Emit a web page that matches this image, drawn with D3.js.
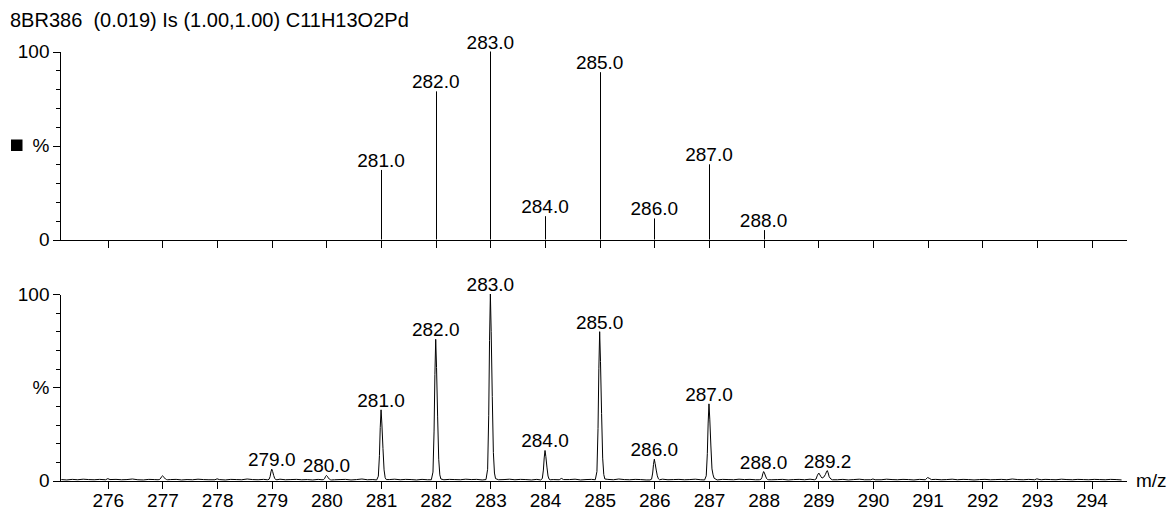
<!DOCTYPE html>
<html>
<head>
<meta charset="utf-8">
<script src="https://cdn.jsdelivr.net/npm/d3@7"></script>
<style>
  html, body { margin: 0; padding: 0; background: #fff; }
  svg { display: block; }
  text { font-family: "Liberation Sans", Arial, Helvetica, sans-serif; fill: #000; }
  .axis path, .axis line { stroke: #000; stroke-width: 1; shape-rendering: crispEdges; }
  .axis text { font-family: "Liberation Sans", Arial, Helvetica, sans-serif; }
</style>
</head>
<body>
<script>
// ---------- DATA ----------
const titleText = "8BR386  (0.019) Is (1.00,1.00) C11H13O2Pd";
const xTicks = [276,277,278,279,280,281,282,283,284,285,286,287,288,289,290,291,292,293,294];
const yMajorTicks = [0, 50, 100];
const yMajorLabels = ["0", "%", "100"];
const yMinorTicks = [10,20,30,40,60,70,80,90];

// Top panel: theoretical isotope pattern (centroid sticks)
const topMz     = [281, 282, 283, 284, 285, 286, 287, 288];
const topInt    = [37.0, 78.8, 100, 12.4, 89.0, 11.2, 40.0, 5.0];
const topLabels = ["281.0","282.0","283.0","284.0","285.0","286.0","287.0","288.0"];

// Bottom panel: labelled peaks of the measured profile
const botLabelMz   = [279, 280, 281, 282, 283, 284, 285, 286, 287, 288, 289.17];
const botLabelInt  = [6.1, 2.7, 37.9, 75.7, 100, 16.1, 79.8, 11.4, 41.1, 4.8, 5.3];
const botLabels    = ["279.0","280.0","281.0","282.0","283.0","284.0","285.0","286.0","287.0","288.0","289.2"];

// Measured profile: baseline noise (step 0.1 from 275.15) and peak points [m/z, %]
const noiseStart = 275.15, noiseStep = 0.1;
const noise = [
 0.5,0.3,0.6,0.4,0.7,0.5,0.4,0.6,0.3,0.5,
 0.6,0.4,0.5,0.8,0.4,0.3,0.6,0.5,0.7,0.4,
 0.5,0.6,0.3,0.5,0.4,0.7,0.5,0.4,0.6,0.5,
 0.3,0.6,0.5,0.4,0.8,0.5,0.4,0.6,0.3,0.5,
 0.7,0.4,0.5,0.6,0.4,0.5,0.3,0.6,0.5,0.7,
 0.4,0.5,0.6,0.3,0.5,0.8,0.4,0.5,0.6,0.4,
 0.5,0.7,0.4,0.6,0.5,0.3,0.6,0.4,0.5,0.9,
 0.4,0.6,0.5,0.4,0.7,0.5,0.6,0.3,0.5,0.6,
 0.4,0.5,0.7,0.4,0.6,0.5,0.3,0.6,0.8,0.4,
 0.5,0.6,0.4,0.5,0.7,0.3,0.5,0.6,0.4,0.5,
 0.6,0.4,0.8,0.5,0.4,0.6,0.5,0.3,0.6,0.5,
 0.7,0.4,0.5,0.6,0.4,0.5,0.7,0.4,0.6,0.5,
 0.3,0.6,0.5,0.4,0.7,0.5,0.6,0.4,0.5,0.8,
 0.4,0.5,0.6,0.3,0.5,0.6,0.4,0.7,0.5,0.4,
 0.6,0.5,0.4,0.6,0.3,0.5,0.7,0.4,0.5,0.6,
 0.4,0.7,0.5,0.4,0.6,0.5,0.3,0.6,0.4,0.5,
 0.6,0.4,0.5,0.7,0.4,0.6,0.5,0.3,0.5,0.6,
 0.4,0.5,0.6,0.4,0.8,0.5,0.4,0.6,0.5,0.3,
 0.6,0.5,0.4,0.7,0.5,0.4,0.6,0.5,0.4,0.6,
 0.5,0.4,0.6,0.5,0.3,0.5
];
const peakPoints = [
 [275.96,0.4],[276.0,1.0],[276.04,0.5],
 [276.92,0.4],[276.95,0.6],[276.97,1.3],[276.985,2.1],[277.0,2.5],[277.015,2.2],[277.035,1.4],[277.055,0.8],[277.075,0.5],[277.095,0.4],
 [277.96,0.4],[278.0,0.9],[278.04,0.5],
 [278.92,0.4],[278.95,0.6],[278.97,2.1],[278.985,4.6],[279.0,6.1],[279.015,4.9],[279.035,2.7],[279.055,1.0],[279.075,0.5],[279.095,0.4],
 [279.92,0.4],[279.95,0.5],[279.97,1.2],[279.985,2.2],[280.0,2.7],[280.015,2.3],[280.035,1.4],[280.055,0.7],[280.075,0.4],[280.095,0.3],
 [280.92,0.3],[280.95,2.3],[280.97,13.3],[280.985,28.4],[281.0,37.9],[281.015,30.3],[281.035,17.1],[281.055,5.7],[281.075,1.5],[281.095,0.5],
 [281.92,0.4],[281.95,4.5],[281.97,26.5],[281.985,56.8],[282.0,75.7],[282.015,60.6],[282.035,34.1],[282.055,11.4],[282.075,3.0],[282.095,0.8],
 [282.92,0.5],[282.95,6],[282.97,35],[282.985,75],[283.0,100],[283.015,80],[283.035,45],[283.055,15],[283.075,4],[283.095,1],
 [283.92,0.3],[283.95,1.0],[283.97,5.6],[283.985,12.1],[284.0,16.1],[284.015,12.9],[284.035,7.2],[284.055,2.4],[284.075,0.7],[284.095,0.4],
 [284.26,0.4],[284.3,1.1],[284.34,0.5],
 [284.92,0.4],[284.95,4.8],[284.97,27.9],[284.985,59.9],[285.0,79.8],[285.015,63.8],[285.035,35.9],[285.055,12.0],[285.075,3.2],[285.095,0.8],
 [285.92,0.3],[285.95,0.7],[285.97,4.0],[285.985,8.6],[286.0,11.4],[286.015,9.1],[286.035,5.6],[286.055,2.5],[286.075,0.9],[286.095,0.4],
 [286.92,0.3],[286.95,2.5],[286.97,14.4],[286.985,30.8],[287.0,41.1],[287.015,32.9],[287.035,18.5],[287.055,6.2],[287.075,3.0],[287.095,1.2],
 [287.92,0.4],[287.95,0.6],[287.97,1.7],[287.985,3.6],[288.0,4.8],[288.015,4.0],[288.035,2.4],[288.055,1.0],[288.075,0.5],[288.095,0.4],
 [288.93,0.4],[288.96,0.8],[288.98,2.5],[289.0,3.6],[289.01,4.0],[289.03,3.0],[289.05,2.0],[289.07,1.3],[289.1,1.8],[289.13,3.2],[289.155,5.0],[289.165,5.3],[289.18,4.2],[289.2,2.0],[289.23,0.8],[289.26,0.4],
 [289.96,0.4],[290.0,0.8],[290.04,0.4],
 [290.96,0.4],[291.0,1.6],[291.03,1.2],[291.07,0.5],
 [292.96,0.4],[293.0,0.9],[293.04,0.6],[293.08,0.4]
];

// ---------- LAYOUT ----------
const W = 1171, H = 513;
const FS = 19;
const svg = d3.select("body").append("svg").attr("width", W).attr("height", H);

const x = d3.scaleLinear().domain([275.116, 294.64]).range([59.5, 1126.5]);
const yTop = d3.scaleLinear().domain([0, 100]).range([239.5, 51.5]);
const yBot = d3.scaleLinear().domain([0, 100]).range([480.5, 294]);

// Title
svg.append("text").attr("x", 10).attr("y", 26.5)
  .attr("font-size", 20).style("white-space", "pre").attr("xml:space", "preserve")
  .text(titleText);

function drawYAxis(y, withSquare) {
  const g = svg.append("g").attr("class", "axis");
  g.append("g").attr("transform", "translate(59.5,0)")
    .call(d3.axisLeft(y).tickValues(yMinorTicks).tickSize(4).tickSizeOuter(0).tickFormat(""))
    .call(s => s.select(".domain").remove());
  g.append("g").attr("transform", "translate(59.5,0)")
    .call(d3.axisLeft(y).tickValues(yMajorTicks).tickSize(7).tickSizeOuter(0).tickPadding(3)
      .tickFormat(d => yMajorLabels[yMajorTicks.indexOf(d)]))
    .call(s => s.selectAll("text").attr("font-size", FS));
  if (withSquare) {
    svg.append("rect").attr("x", 11).attr("y", y(50) - 6).attr("width", 11.5).attr("height", 11.5).attr("fill", "#000");
  }
}
function drawXAxis(y, withLabels) {
  const g = svg.append("g").attr("class", "axis").attr("transform", `translate(0,${y(0)})`)
    .call(d3.axisBottom(x).tickValues(xTicks).tickSize(8).tickSizeOuter(0).tickPadding(5)
      .tickFormat(withLabels ? d3.format("d") : ""));
  g.selectAll("text").attr("font-size", FS);
}

// ---------- TOP PANEL ----------
drawYAxis(yTop, true);
drawXAxis(yTop, false);
const topG = svg.append("g");
topG.selectAll("line.stick").data(topMz).enter().append("line")
  .attr("x1", d => Math.round(x(d)) + 0.5).attr("x2", d => Math.round(x(d)) + 0.5)
  .attr("y1", yTop(0)).attr("y2", (d, i) => yTop(topInt[i]))
  .attr("stroke", "#000").attr("stroke-width", 1);
topG.selectAll("text").data(topMz).enter().append("text")
  .attr("x", d => x(d)).attr("y", (d, i) => yTop(topInt[i]) - 3)
  .attr("text-anchor", "middle").attr("font-size", FS)
  .text((d, i) => topLabels[i]);

// ---------- BOTTOM PANEL ----------
drawYAxis(yBot, false);
drawXAxis(yBot, true);

const noisePts = noise.map((v, i) => [noiseStart + i * noiseStep, v])
  .filter(p => !peakPoints.some(q => Math.abs(q[0] - p[0]) < 0.03));
const profile = noisePts.concat(peakPoints).sort((a, b) => a[0] - b[0])
  .filter(p => p[0] >= x.domain()[0] && p[0] <= x.domain()[1]);

svg.append("path").datum(profile)
  .attr("fill", "none").attr("stroke", "#000").attr("stroke-width", 1)
  .attr("stroke-linejoin", "round")
  .attr("d", d3.line().x(d => x(d[0])).y(d => yBot(d[1])));

svg.append("g").selectAll("text").data(botLabelMz).enter().append("text")
  .attr("x", d => x(d)).attr("y", (d, i) => yBot(botLabelInt[i]) - 3)
  .attr("text-anchor", "middle").attr("font-size", FS)
  .text((d, i) => botLabels[i]);

svg.append("text").attr("x", 1136).attr("y", 487).attr("font-size", FS).text("m/z");
</script>
</body>
</html>
